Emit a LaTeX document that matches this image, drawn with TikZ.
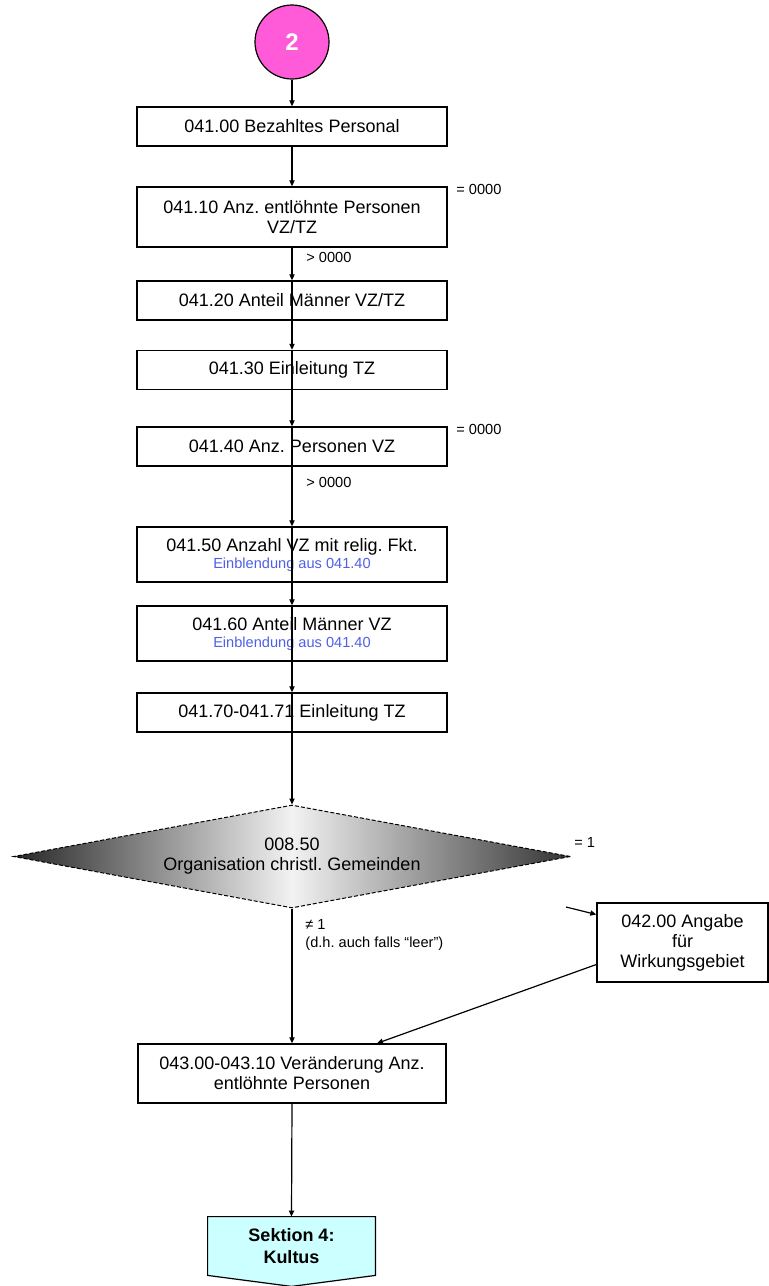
\documentclass[tikz,border=0pt]{standalone}
\usepackage{fontspec}
\setmainfont{Liberation Sans}
\usepackage{xcolor}
\usepackage{tikz}
\usetikzlibrary{calc,arrows.meta,positioning,shapes.geometric,backgrounds}
\definecolor{pinkc}{HTML}{FF5AD7}
\definecolor{bluec}{HTML}{4F60E8}
\definecolor{cyanbg}{HTML}{CCFFFF}
\tikzset{
  ar/.style={-{Triangle[length=3pt,width=2.6pt]},line width=0.6pt,black},
  bx/.style={rectangle,draw,line width=0.7pt,fill=white,minimum width=155pt,minimum height=19.5pt,align=center,inner sep=1pt,font=\fontsize{9}{10}\selectfont},
  lb/.style={anchor=west,align=left,inner sep=0pt,font=\fontsize{7.3}{9}\selectfont}
}
\newcommand{\einbl}{\\[-1.5pt]{\fontsize{7.3}{8.5}\selectfont\color{bluec}Einblendung aus 041.40}}
\frenchspacing

\begin{document}
\begin{tikzpicture}[x=0.5pt,y=-0.5pt]
\useasboundingbox (0,0) rectangle (769,1286);
\node[circle,draw,line width=0.6pt,fill=pinkc,minimum size=37pt,inner sep=0pt,text=white,font=\fontsize{12}{14}\selectfont\bfseries] (c2) at (292,42) {2};
\node[bx] (b1) at (292,126.5) {041.00 Bezahltes Personal};
\node[bx,minimum height=30pt] (b2) at (292,217) {041.10 Anz. entlöhnte Personen\\VZ/TZ};
\node[bx] (b3) at (292,300.5) {041.20 Anteil Männer VZ/TZ};
\node[bx] (b4) at (292,370) {041.30 Einleitung TZ};
\node[bx] (b5) at (292,446.5) {041.40 Anz. Personen VZ};
\node[bx,minimum height=27.5pt] (b6) at (292,554.5) {041.50 Anzahl VZ mit relig. Fkt.\einbl};
\node[bx,minimum height=27.5pt] (b7) at (292,633.5) {041.60 Anteil Männer VZ\einbl};
\node[bx] (b8) at (292,712.5) {041.70-041.71 Einleitung TZ};
\node[diamond,aspect=5.4,draw,dashed,dash pattern=on 2pt off 1pt,line width=0.5pt,left color=black!85,right color=black!80,middle color=black!5,minimum width=278.5pt,minimum height=51.5pt,inner sep=0pt,align=center,font=\fontsize{9}{10}\selectfont] (dm) at (292,856.5) {008.50\\Organisation christl. Gemeinden};
\node[bx,minimum width=85.5pt,minimum height=39.5pt] (b42) at (682.5,942.5) {042.00 Angabe\\für\\Wirkungsgebiet};
\node[bx,minimum width=154pt,minimum height=29.5pt] (b43) at (292,1073.5) {043.00-043.10 Veränderung Anz.\\entlöhnte Personen};
\node[minimum width=83.5pt,minimum height=29pt,inner sep=0pt,align=center,font=\fontsize{9}{11}\selectfont\bfseries] (s4) at (291.5,1246) {Sektion 4:\\Kultus};
\begin{scope}[on background layer]
\draw[fill=cyanbg,line width=0.6pt] (s4.north west) -- (s4.north east) -- (s4.south east) -- ($(s4.south)+(0,-5.5pt)$) -- (s4.south west) -- cycle;
\end{scope}
% labels
\node[lb] (l1) at (456,189) {= 0000};
\node[lb] (l2) at (306,257) {> 0000};
\node[lb] (l3) at (456,429) {= 0000};
\node[lb] (l4) at (306,482) {> 0000};
\node[lb] (l5) at (574,842) {= 1};
\node[lb,anchor=north west] (l6) at (305,919) {≠ 1\\(d.h. auch falls “leer”)};
% connectors
\draw[ar] (c2) -- (b1);
\draw[ar] (b1) -- (b2);
\draw[ar] (b2.south) -- (b3.north);
\foreach \a/\b in {b3/b4,b4/b5,b5/b6,b6/b7,b7/b8,b8/dm}{\draw[ar] (\a.north) -- (\b.north);}
\draw[ar] (dm.south) -- (b43.north);
\coordinate (eq1) at (566,907);
\draw[ar] (eq1) -- ([yshift=14pt]b42.west);
\draw[ar] ([yshift=-11pt]b42.west) -- ([xshift=42.5pt]b43.north);
\draw[ar] (b43.south) -- (s4.north);
\end{tikzpicture}
\end{document}
